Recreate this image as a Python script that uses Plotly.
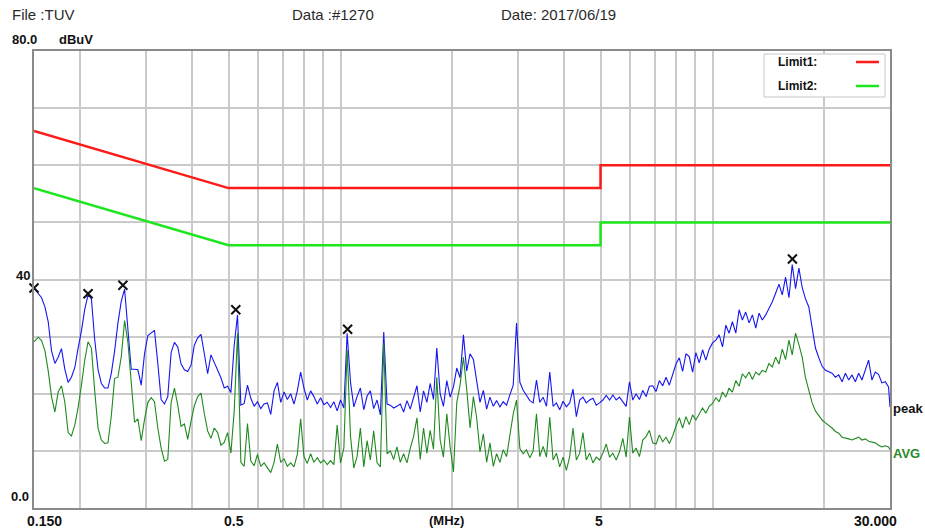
import math
import plotly.graph_objects as go

# ---------------- data ----------------
FREQ_MHZ = [
    0.1500, 0.1540, 0.1572, 0.1605, 0.1638, 0.1672, 0.1707, 0.1742, 0.1778, 0.1815,
    0.1853, 0.1891, 0.1931, 0.1971, 0.2012, 0.2054, 0.2096, 0.2140, 0.2184, 0.2230,
    0.2276, 0.2323, 0.2371, 0.2421, 0.2471, 0.2522, 0.2575, 0.2628, 0.2683, 0.2738,
    0.2795, 0.2853, 0.2913, 0.2973, 0.3035, 0.3098, 0.3162, 0.3228, 0.3295, 0.3364,
    0.3433, 0.3505, 0.3578, 0.3652, 0.3728, 0.3805, 0.3884, 0.3965, 0.4047, 0.4131,
    0.4217, 0.4305, 0.4394, 0.4485, 0.4578, 0.4674, 0.4771, 0.4870, 0.4971, 0.5074,
    0.5180, 0.5287, 0.5397, 0.5509, 0.5623, 0.5740, 0.5860, 0.5981, 0.6105, 0.6232,
    0.6362, 0.6494, 0.6629, 0.6766, 0.6907, 0.7050, 0.7197, 0.7346, 0.7499, 0.7655,
    0.7814, 0.7976, 0.8142, 0.8311, 0.8483, 0.8660, 0.8840, 0.9023, 0.9211, 0.9402,
    0.9597, 0.9797,
    1.000, 1.021, 1.042, 1.064, 1.086, 1.108, 1.131, 1.155, 1.179, 1.203,
    1.228, 1.254, 1.280, 1.307, 1.334, 1.361, 1.390, 1.418, 1.448, 1.478,
    1.509, 1.540, 1.572, 1.605, 1.638, 1.672, 1.707, 1.742, 1.778, 1.815,
    1.853, 1.891, 1.931, 1.971, 2.012, 2.054, 2.096, 2.140, 2.184, 2.230,
    2.276, 2.323, 2.371, 2.421, 2.471, 2.522, 2.575, 2.628, 2.683, 2.738,
    2.795, 2.853, 2.913, 2.973, 3.035, 3.098, 3.162, 3.228, 3.295, 3.364,
    3.433, 3.505, 3.578, 3.652, 3.728, 3.805, 3.884, 3.965, 4.047, 4.131,
    4.217, 4.305, 4.394, 4.485, 4.578, 4.674, 4.771, 4.870, 4.971, 5.074,
    5.180, 5.287, 5.397, 5.509, 5.623, 5.740, 5.860, 5.981, 6.105, 6.232,
    6.362, 6.494, 6.629, 6.766, 6.907, 7.050, 7.197, 7.346, 7.499, 7.655,
    7.814, 7.976, 8.142, 8.311, 8.483, 8.660, 8.840, 9.023, 9.211, 9.402,
    9.597, 9.797,
    10.00, 10.21, 10.42, 10.64, 10.86, 11.08, 11.31, 11.55, 11.79, 12.03,
    12.28, 12.54, 12.80, 13.07, 13.34, 13.61, 13.90, 14.18, 14.48, 14.78,
    15.09, 15.40, 15.72, 16.05, 16.38, 16.72, 17.07, 17.42, 17.78, 18.15,
    18.53, 18.91, 19.31, 19.71, 20.12, 20.54, 20.96, 21.40, 21.84, 22.30,
    22.76, 23.23, 23.71, 24.21, 24.71, 25.22, 25.75, 26.28, 26.83, 27.38,
    27.95, 28.53, 29.13, 29.73, 30.00,
]

PEAK_DBUV = [
    38.5, 37.6, 36.8, 35.2, 32.6, 27.5, 25.3, 26.4, 27.9, 24.3,
    22.0, 22.9, 24.6, 28.0, 31.0, 34.8, 37.3, 36.6, 29.5, 24.2,
    21.8, 21.0, 21.0, 23.6, 27.5, 32.4, 36.2, 38.3, 31.5, 24.3,
    24.3, 24.2, 21.5, 27.0, 30.2, 30.7, 31.1, 25.3, 19.0, 18.2,
    19.5, 27.2, 29.0, 28.2, 25.2, 24.2, 23.9, 25.0, 28.5, 29.8,
    30.4, 27.0, 23.5, 26.8, 25.5, 24.2, 22.8, 21.0, 21.3, 20.2,
    28.5, 33.8, 18.0, 18.3, 21.5, 19.2, 17.8, 18.6, 17.4, 18.2,
    18.4, 16.4, 20.5, 22.0, 18.5, 20.3, 19.0, 20.0, 18.2, 20.5,
    23.8, 21.0, 18.9, 20.5, 19.5, 18.2, 19.3, 18.1, 18.5, 17.6,
    18.6, 17.0,
    18.9, 17.5, 30.6, 22.0, 17.7, 19.5, 21.0, 17.2, 19.6, 20.5,
    17.4, 18.9, 16.3, 30.8, 18.2, 18.0, 17.5, 17.8, 18.2, 16.8,
    18.8, 17.3, 19.2, 21.4, 16.8, 20.5, 18.5, 21.8, 19.0, 28.0,
    20.0, 17.8, 22.3, 19.4, 21.2, 24.5, 22.8, 30.3, 24.0, 27.0,
    26.0, 22.0, 18.5, 20.6, 17.3, 19.4, 17.8, 18.8, 17.7, 18.6,
    18.0, 19.8, 21.5, 32.4, 22.0, 20.6, 19.6, 18.8, 18.4, 22.4,
    18.5, 19.4, 17.8, 23.8, 17.8, 18.4, 17.2, 18.7, 17.7, 18.4,
    20.8, 16.0, 18.9, 19.4, 18.4, 18.9, 19.2, 18.0, 18.4, 18.9,
    19.7, 18.9, 19.8, 18.9, 19.4, 18.6, 17.8, 22.1, 18.9, 20.0,
    19.0, 20.6, 19.5, 21.3, 21.4, 20.4, 22.3, 21.4, 22.9, 21.5,
    23.3, 25.2, 26.3, 23.9, 27.0, 26.5, 23.8, 27.2, 25.4, 27.7,
    25.9, 27.8,
    28.9, 29.4, 30.3, 28.2, 32.0, 30.6, 32.6, 30.6, 34.7, 32.9,
    34.3, 32.4, 33.8, 31.5, 34.1, 32.9, 33.8, 34.9, 36.1, 37.6,
    39.2, 37.3, 40.4, 36.8, 42.6, 38.4, 42.0, 38.6, 36.6, 35.2,
    31.8, 28.0, 26.3, 24.8, 24.1, 23.8, 23.6, 22.9, 23.3, 22.1,
    23.6, 22.4, 23.3, 22.1, 23.6, 22.4, 24.1, 25.9, 22.4, 23.8,
    23.4, 21.9, 22.1, 21.2, 17.7,
]

AVG_DBUV = [
    29.1, 29.9, 29.3, 27.5, 24.0, 19.5, 16.8, 20.3, 21.4, 18.6,
    13.2, 12.6, 14.5, 17.6, 21.5, 25.9, 29.1, 28.0, 20.5, 14.0,
    11.9, 11.3, 11.4, 16.2, 22.7, 22.9, 26.5, 32.8, 29.0, 22.0,
    15.0, 15.6, 11.8, 15.5, 18.5, 19.3, 18.6, 14.0, 10.5, 8.2,
    8.5, 18.5, 21.0, 18.0, 14.3, 14.7, 12.0, 15.2, 17.9, 19.5,
    20.1, 16.5, 13.5, 12.2, 14.0, 13.2, 11.0, 11.5, 13.2, 9.6,
    17.0, 30.6, 8.0, 7.3, 14.8, 8.2, 7.4, 9.4, 7.3, 7.9,
    7.0, 6.2, 8.0, 11.2, 8.0, 8.6, 7.3, 7.9, 7.2, 9.4,
    15.6, 9.0, 7.8, 9.5, 8.0, 8.8, 7.9, 8.4, 7.6, 8.3,
    7.6, 14.5,
    7.9, 10.5, 27.7, 12.5, 7.0, 9.0, 14.0, 7.2, 11.8, 8.4,
    13.5, 7.9, 7.2, 28.9, 9.5, 10.0, 8.5, 10.7, 8.0, 9.5,
    7.9, 10.5, 12.5, 15.8, 8.5, 14.0, 9.6, 13.6, 10.3, 22.9,
    11.9, 8.9, 16.5, 10.7, 6.3, 18.5, 21.5, 26.4, 20.8, 14.0,
    19.5, 15.8, 9.8, 13.0, 8.0, 11.4, 7.3, 9.5, 8.0, 10.2,
    9.0, 12.5, 16.5, 18.9, 10.4, 9.5, 10.2, 8.8, 10.0, 16.5,
    9.0, 10.8, 8.9, 15.9, 8.4, 9.6, 7.2, 8.9, 6.6, 9.0,
    14.0, 8.4, 9.6, 13.2, 8.4, 9.6, 7.9, 8.9, 8.4, 9.6,
    11.2, 8.9, 9.6, 8.4, 9.8, 12.2, 8.9, 15.9, 9.6, 10.5,
    9.0, 11.9, 12.5, 13.6, 11.4, 11.2, 12.8, 11.6, 12.4, 11.3,
    12.6, 14.3, 15.8, 14.0, 16.0, 14.6, 16.3, 15.4, 16.4, 17.5,
    16.6, 17.8,
    18.3, 19.3, 18.6, 20.3, 19.4, 21.0, 20.3, 22.3, 21.3, 23.5,
    22.8, 23.8, 22.5, 23.8, 23.3, 24.1, 23.8, 25.3, 24.7, 26.4,
    25.2, 27.8, 26.0, 29.4, 26.8, 30.6, 28.6, 26.4, 22.8, 20.5,
    18.4, 17.0, 16.1, 15.4, 14.9, 14.5, 14.0, 13.4, 13.1, 12.4,
    12.3, 12.1, 11.9, 12.1, 12.4, 11.9, 12.1, 11.7, 11.6, 11.4,
    11.0, 10.7, 10.9, 10.7, 10.2,
]

assert len(FREQ_MHZ) == len(PEAK_DBUV) == len(AVG_DBUV), (len(FREQ_MHZ), len(PEAK_DBUV), len(AVG_DBUV))

LIMIT_FREQ = [0.15, 0.5, 5.0, 5.0, 30.0]
LIMIT1_DBUV = [66, 56, 56, 60, 60]
LIMIT2_DBUV = [56, 46, 46, 50, 50]

MARKER_FREQ = [0.150, 0.2096, 0.2600, 0.5230, 1.045, 16.40]
MARKER_DBUV = [38.5, 37.5, 39.0, 34.7, 31.3, 43.6]

GRID_FREQ = [0.2, 0.3, 0.4, 0.5, 0.6, 0.7, 0.8, 0.9,
             1, 2, 3, 4, 5, 6, 7, 8, 9, 10, 20]
XTICK_VALS = [0.15, 0.5, 5, 30]
XTICK_TEXT = ["0.150", "0.5", "5", "30.000"]
XTICK_SHIFT = [10, 5, -2, -15]

HEADER = ["File :TUV", "Data :#1270", "Date: 2017/06/19"]

FONT = "Liberation Sans, Arial, sans-serif"

# ---------------- figure ----------------
fig = go.Figure()

fig.add_trace(go.Scatter(x=LIMIT_FREQ, y=LIMIT1_DBUV, mode="lines",
                         line=dict(color="#ff1a1a", width=2.5), name="Limit1:",
                         showlegend=False, hoverinfo="skip"))
fig.add_trace(go.Scatter(x=LIMIT_FREQ, y=LIMIT2_DBUV, mode="lines",
                         line=dict(color="#1ee61e", width=2.5), name="Limit2:",
                         showlegend=False, hoverinfo="skip"))
fig.add_trace(go.Scatter(x=FREQ_MHZ, y=PEAK_DBUV, mode="lines",
                         line=dict(color="#1616f0", width=1.1), name="peak",
                         showlegend=False))
fig.add_trace(go.Scatter(x=FREQ_MHZ, y=AVG_DBUV, mode="lines",
                         line=dict(color="#1f8a1f", width=1.1), name="AVG",
                         showlegend=False))
fig.add_trace(go.Scatter(x=MARKER_FREQ, y=MARKER_DBUV, mode="markers",
                         marker=dict(symbol="x-thin-open", size=9, color="#111111",
                                     line=dict(color="#111111", width=2)),
                         cliponaxis=False, showlegend=False))

fig.update_xaxes(type="log",
                 range=[math.log10(0.15), math.log10(30)],
                 tickvals=GRID_FREQ, showticklabels=False, ticks="",
                 showgrid=True, gridcolor="#cacaca", gridwidth=1.5,
                 showline=True, linecolor="#8a8a8a", linewidth=2, mirror=True,
                 zeroline=False)
fig.update_yaxes(range=[0, 80], dtick=10, showticklabels=False, ticks="",
                 showgrid=True, gridcolor="#cacaca", gridwidth=1.5,
                 showline=True, linecolor="#8a8a8a", linewidth=2, mirror=True,
                 zeroline=False)

ann = []
# x tick labels
for v, t, s in zip(XTICK_VALS, XTICK_TEXT, XTICK_SHIFT):
    ann.append(dict(x=math.log10(v), xref="x", y=0, yref="paper",
                    text=f"<b>{t}</b>", showarrow=False, xanchor="center",
                    yanchor="top", xshift=s, yshift=-3,
                    font=dict(family=FONT, size=14, color="#111111")))
ann.append(dict(x=0.4819, xref="paper", y=0, yref="paper", text="<b>(MHz)</b>",
                showarrow=False, xanchor="center", yanchor="top", yshift=-3,
                font=dict(family=FONT, size=13, color="#111111")))
# y labels
ann.append(dict(x=-0.028, xref="paper", y=80, yref="y", text="<b>80.0</b>",
                showarrow=False, xanchor="left", yanchor="middle", yshift=12,
                font=dict(family=FONT, size=13, color="#111111")))
ann.append(dict(x=0.0269, xref="paper", y=80, yref="y", text="<b>dBuV</b>",
                showarrow=False, xanchor="left", yanchor="middle", yshift=12,
                font=dict(family=FONT, size=13, color="#111111")))
ann.append(dict(x=-0.0234, xref="paper", y=40, yref="y", text="<b>40</b>",
                showarrow=False, xanchor="left", yanchor="middle", yshift=4,
                font=dict(family=FONT, size=13, color="#111111")))
ann.append(dict(x=-0.0292, xref="paper", y=0, yref="y", text="<b>0.0</b>",
                showarrow=False, xanchor="left", yanchor="middle", yshift=12,
                font=dict(family=FONT, size=13, color="#111111")))
# header
for t, xp in zip(HEADER, [-0.028, 0.2991, 0.5432]):
    ann.append(dict(x=xp, xref="paper", y=1.0788, yref="paper", text=t,
                    showarrow=False, xanchor="left", yanchor="middle",
                    font=dict(family=FONT, size=15, color="#2a2a2a")))
# trace end labels
ann.append(dict(x=math.log10(30), xref="x", y=17.5, yref="y", text="<b>peak</b>",
                showarrow=False, xanchor="left", yanchor="middle", xshift=1,
                font=dict(family=FONT, size=13, color="#111111")))
ann.append(dict(x=math.log10(30), xref="x", y=9.6, yref="y", text="<b>AVG</b>",
                showarrow=False, xanchor="left", yanchor="middle", xshift=1,
                font=dict(family=FONT, size=13, color="#2a8a2a")))
# legend texts
ann.append(dict(x=0.8668, xref="paper", y=0.9759, yref="paper", text="<b>Limit1:</b>",
                showarrow=False, xanchor="left", yanchor="middle",
                font=dict(family=FONT, size=12, color="#111111")))
ann.append(dict(x=0.8668, xref="paper", y=0.9234, yref="paper", text="<b>Limit2:</b>",
                showarrow=False, xanchor="left", yanchor="middle",
                font=dict(family=FONT, size=12, color="#111111")))

shapes = [
    dict(type="rect", xref="paper", yref="paper", x0=0.8528, x1=0.9942,
         y0=0.8993, y1=0.9934, fillcolor="white",
         line=dict(color="#c8c8c8", width=1), layer="above"),
    dict(type="line", xref="paper", yref="paper", x0=0.9603, x1=0.9871,
         y0=0.9759, y1=0.9759, line=dict(color="#ff1a1a", width=2.5), layer="above"),
    dict(type="line", xref="paper", yref="paper", x0=0.9603, x1=0.9871,
         y0=0.9234, y1=0.9234, line=dict(color="#1ee61e", width=2.5), layer="above"),
]

fig.update_layout(width=925, height=529,
                  margin=dict(l=34, r=35, t=51, b=21, pad=0),
                  paper_bgcolor="white", plot_bgcolor="white",
                  showlegend=False, annotations=ann, shapes=shapes,
                  font=dict(family=FONT))

fig.write_html("out.html", config={"displayModeBar": False})
